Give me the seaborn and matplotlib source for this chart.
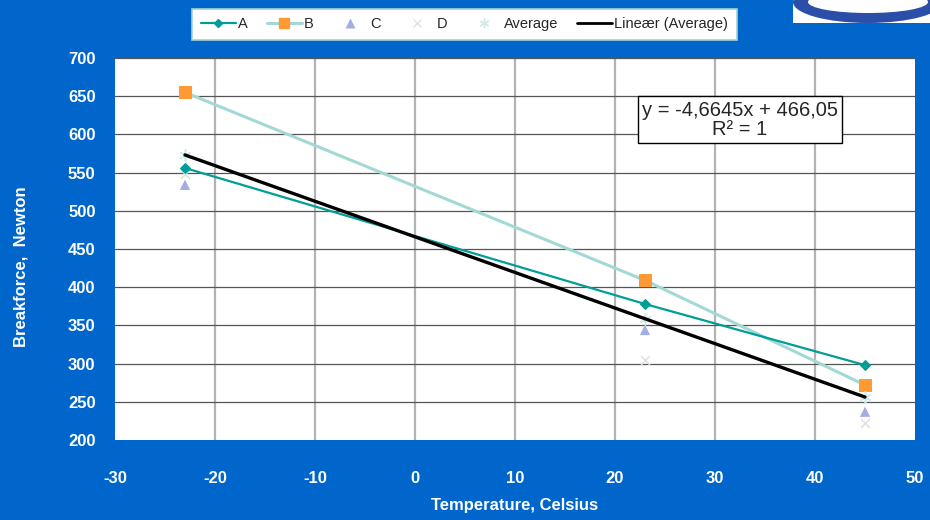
import numpy as np
import pandas as pd
import seaborn as sns
import matplotlib.pyplot as plt
from matplotlib.patches import Ellipse, Rectangle
from matplotlib.lines import Line2D

sns.set_style("white")
plt.rcParams['font.family'] = ['Liberation Sans', 'DejaVu Sans']
plt.rcParams['axes.unicode_minus'] = False

# values
temps = [-23, 23, 45]
a_vals = [556, 378, 298]
b_vals = [655, 409, 272]
c_vals = [534, 344, 237]
d_vals = [548, 305, 222]
avg_vals = [573, 359, 256]
x_ticks = [-30, -20, -10, 0, 10, 20, 30, 40, 50]
y_ticks = [200, 250, 300, 350, 400, 450, 500, 550, 600, 650, 700]

df = pd.DataFrame({"T": temps, "A": a_vals, "B": b_vals, "C": c_vals,
                   "D": d_vals, "Average": avg_vals})

blue_bg = "#0066CC"
fig = plt.figure(figsize=(9.3, 5.2), dpi=100, facecolor=blue_bg)
ax = fig.add_axes([115/930, 1-440/520, 800/930, 382/520])
ax.set_facecolor("white")

sns.lineplot(data=df, x="T", y="B", ax=ax, color="#A3D9D5", lw=2.2,
             marker="s", markersize=8, markerfacecolor="#FF9933",
             markeredgecolor="#FF9933", zorder=3)
sns.lineplot(data=df, x="T", y="A", ax=ax, color="#009E96", lw=1.6,
             marker="D", markersize=5, markeredgecolor="#009E96", zorder=4)
sns.scatterplot(data=df, x="T", y="C", ax=ax, color="#A4ACE4", marker="^",
                s=55, edgecolor="none", zorder=3)
sns.scatterplot(data=df, x="T", y="D", ax=ax, color="#E2E2E2", marker="x",
                s=40, linewidth=1.2, zorder=3)
sns.scatterplot(data=df, x="T", y="Average", ax=ax, color="#D3E9E9",
                marker=(6, 2, 0), s=60, linewidth=1.2, zorder=3)
sns.regplot(data=df, x="T", y="Average", ax=ax, scatter=False, ci=None,
            truncate=True, color="black", line_kws={"lw": 2.4, "zorder": 5})

ax.set_xlim(-30, 50)
ax.set_ylim(200, 700)
ax.set_xticks(x_ticks)
ax.set_yticks(y_ticks)
ax.grid(False)
for x in x_ticks[1:-1]:
    ax.axvline(x, color="#B3B3B3", lw=1.6, zorder=1)
for y in y_ticks[1:]:
    ax.axhline(y, color="#555555", lw=0.9, zorder=1)
for s in ax.spines.values():
    s.set_visible(False)

ax.tick_params(axis="both", length=0, colors="white", labelsize=12)
ax.tick_params(axis="x", pad=22)
ax.tick_params(axis="y", pad=14)
for lab in ax.get_xticklabels() + ax.get_yticklabels():
    lab.set_fontweight("bold")

ax.set_xlabel("Temperature, Celsius", color="white", fontsize=12,
              fontweight="bold")
ax.set_ylabel("Breakforce,  Newton", color="white", fontsize=12,
              fontweight="bold")
ax.xaxis.set_label_coords(0.5, -0.152)
ax.yaxis.set_label_coords(-0.1075, 0.453)

ax.text(0.781, 0.838, "y = -4,6645x + 466,05\nR² = 1", transform=ax.transAxes,
        ha="center", va="center", fontsize=14.5, linespacing=1.05, zorder=6,
        bbox=dict(boxstyle="square,pad=0.2", fc="white", ec="black", lw=1))

# legend on top
handles = [
    Line2D([], [], color="#009E96", lw=1.6, marker="D", markersize=4),
    Line2D([], [], color="#A3D9D5", lw=2.2, marker="s", markersize=7,
           markerfacecolor="#FF9933", markeredgecolor="#FF9933"),
    Line2D([], [], color="none", marker="^", markersize=7,
           markerfacecolor="#A4ACE4", markeredgecolor="none"),
    Line2D([], [], color="none", marker="x", markersize=6,
           markeredgecolor="#E2E2E2"),
    Line2D([], [], color="none", marker=(6, 2, 0), markersize=7,
           markeredgecolor="#D3E9E9"),
    Line2D([], [], color="black", lw=2),
]
labels = ["A", "B", "C", "D", "Average", "Lineær (Average)"]
leg = fig.legend(handles, labels, ncol=6, loc="lower left", mode="expand",
                 bbox_to_anchor=(192/930, 1-40/520, 545/930, 35/520),
                 frameon=True, fancybox=False, framealpha=1, fontsize=10.5,
                 handlelength=2.4, handletextpad=0.15, columnspacing=1.2,
                 borderpad=0.6, borderaxespad=0)
leg.get_frame().set_facecolor("white")
leg.get_frame().set_edgecolor("#9FD3D3")
leg.get_frame().set_linewidth(1.2)

# logo corner
fig.patches.append(Rectangle((793/930, 1-23/520), 137/930, 23/520,
                             transform=fig.transFigure, fc="white",
                             ec="none"))
fig.patches.append(Ellipse((868/930, 1-2/520), 150/930, 42/520,
                           transform=fig.transFigure, fc="#2B4FA8",
                           ec="none"))
fig.patches.append(Ellipse((868/930, 1-2/520), 120/930, 22/520,
                           transform=fig.transFigure, fc="white",
                           ec="none"))

fig.savefig("out.png", dpi=100, facecolor=blue_bg)
